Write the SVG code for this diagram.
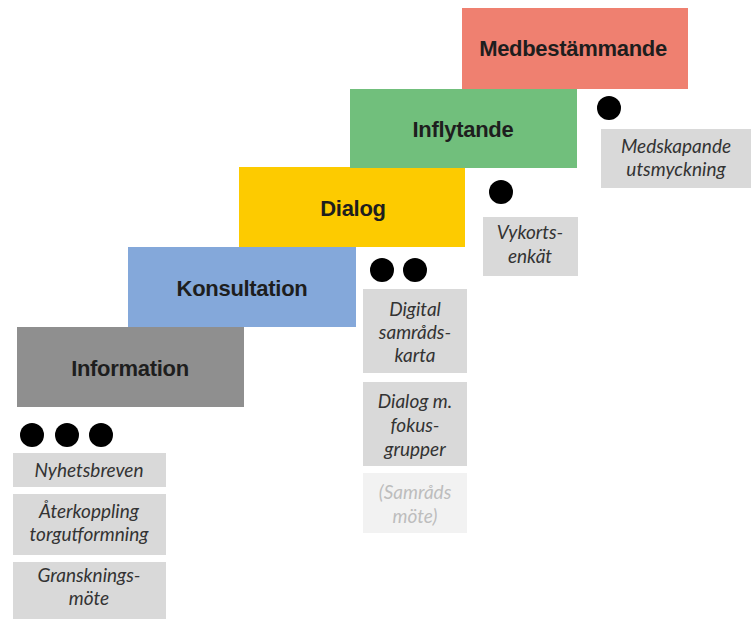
<svg xmlns="http://www.w3.org/2000/svg" width="752" height="619" viewBox="0 0 752 619">
<style>
.h{font-family:"Liberation Sans",Arial,sans-serif;font-weight:bold;font-size:22px;fill:#1e1e1e;text-anchor:middle;letter-spacing:-0.3px}
.t{font-family:Lato,"Open Sans",sans-serif;font-style:italic;font-size:19px;fill:#333;text-anchor:middle}
.tl{font-family:Lato,"Open Sans",sans-serif;font-style:italic;font-size:19px;fill:#bdbdbd;text-anchor:middle}
.b{fill:#d9d9d9}
.bl{fill:#f2f2f2}
.d{fill:#000}
</style>
<rect width="752" height="619" fill="#fff"/>
<g id="information">
<rect x="17" y="327" width="227" height="80" fill="#8f8f8f"/>
<text class="h" x="130" y="376">Information</text>
</g>
<g id="konsultation">
<rect x="128" y="247" width="228" height="80" fill="#84a8da"/>
<text class="h" x="242" y="296">Konsultation</text>
</g>
<g id="dialog">
<rect x="239" y="167" width="226" height="80" fill="#fdcb00"/>
<text class="h" x="353" y="216">Dialog</text>
</g>
<g id="inflytande">
<rect x="350" y="89" width="227" height="79" fill="#71bf7c"/>
<text class="h" x="463" y="137">Inflytande</text>
</g>
<g id="medbestammande">
<rect x="462" y="8" width="226" height="81" fill="#ef8070"/>
<text class="h" x="573" y="56">Medbestämmande</text>
</g>
<g id="info-items">
<circle class="d" cx="32" cy="435" r="12"/>
<circle class="d" cx="67" cy="435" r="12"/>
<circle class="d" cx="101" cy="435" r="12"/>
<rect class="b" x="13" y="453" width="153" height="34"/>
<text class="t" x="89" y="477">Nyhetsbreven</text>
<rect class="b" x="13" y="494" width="153" height="61"/>
<text class="t" x="89" y="518">Återkoppling</text>
<text class="t" x="89" y="541">torgutformning</text>
<rect class="b" x="13" y="562" width="153" height="57"/>
<text class="t" x="89" y="582">Gransknings-</text>
<text class="t" x="89" y="605">möte</text>
</g>
<g id="dialog-items">
<circle class="d" cx="382" cy="270" r="12"/>
<circle class="d" cx="415" cy="270" r="12"/>
<rect class="b" x="363" y="289" width="104" height="84"/>
<text class="t" x="415" y="316">Digital</text>
<text class="t" x="415" y="339">samråds-</text>
<text class="t" x="415" y="362">karta</text>
<rect class="b" x="363" y="382" width="104" height="84"/>
<text class="t" x="415" y="408">Dialog m.</text>
<text class="t" x="415" y="432">fokus-</text>
<text class="t" x="415" y="456">grupper</text>
<rect class="bl" x="363" y="473" width="104" height="60"/>
<text class="tl" x="415" y="499">(Samråds</text>
<text class="tl" x="415" y="523">möte)</text>
</g>
<g id="inflytande-items">
<circle class="d" cx="501" cy="192" r="12"/>
<rect class="b" x="483" y="217" width="95" height="59"/>
<text class="t" x="530" y="239">Vykorts-</text>
<text class="t" x="530" y="263">enkät</text>
</g>
<g id="medbestammande-items">
<circle class="d" cx="609" cy="108" r="12"/>
<rect class="b" x="601" y="129" width="150" height="59"/>
<text class="t" x="676" y="153">Medskapande</text>
<text class="t" x="676" y="176">utsmyckning</text>
</g>
<g id="connectors"></g>
</svg>
